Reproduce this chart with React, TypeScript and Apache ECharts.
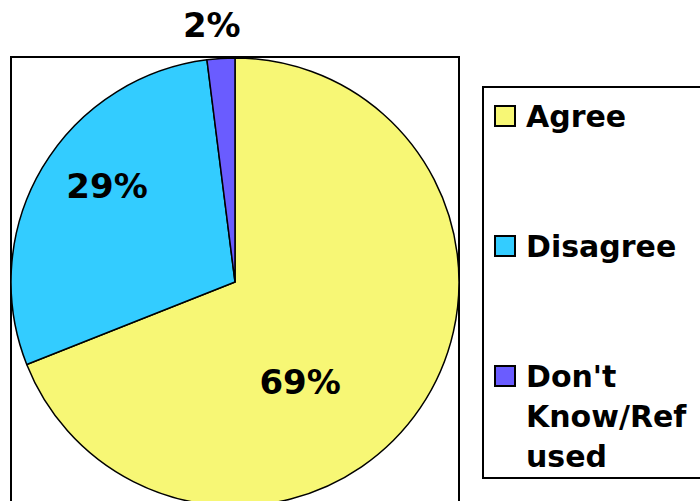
import React, { useEffect, useRef } from "react";
import * as echarts from "echarts";

const categories = ["Agree", "Disagree", "Don't Know/Refused"];
const legendLabels = ["Agree", "Disagree", "Don't\nKnow/Ref\nused"];
const values = [69, 29, 2];
const colors = ["#F7F775", "#33CCFF", "#6A5CFF"];
// label shifts relative to the library's inside position (Excel-style label placement)
const labelShift = [
  { dx: -30, dy: 35 },
  { dx: -29, dy: -37 },
  { dx: -16, dy: -142 },
];

const FONT = "DejaVu Sans";

export default function App() {
  const ref = useRef<HTMLDivElement>(null);
  useEffect(() => {
    if (!ref.current) return;
    const chart = echarts.init(ref.current, undefined, { renderer: "svg" });
    const legendGraphics: any[] = [];
    categories.forEach((c, i) => {
      const cy = 116 + i * 130;
      legendGraphics.push({
        type: "rect",
        shape: { x: 495, y: cy - 10, width: 20, height: 20 },
        style: { fill: colors[i], stroke: "#000", lineWidth: 2 },
      });
      legendGraphics.push({
        type: "text",
        x: 526,
        y: cy - 20,
        style: {
          text: legendLabels[i],
          fill: "#000",
          font: `bold 30px "${FONT}"`,
          fontFamily: FONT,
          fontWeight: "bold",
          fontSize: 30,
          lineHeight: 40,
          verticalAlign: "top",
          align: "left",
        },
      });
    });
    chart.setOption({
      animation: false,
      backgroundColor: "#fff",
      graphic: [
        {
          type: "rect",
          z: 0,
          shape: { x: 11, y: 57, width: 448, height: 480 },
          style: { fill: "none", stroke: "#000", lineWidth: 2 },
        },
        {
          type: "rect",
          z: 0,
          shape: { x: 483, y: 87, width: 260, height: 391 },
          style: { fill: "none", stroke: "#000", lineWidth: 2 },
        },
        ...legendGraphics,
      ],
      series: [
        {
          type: "pie",
          center: [235, 282],
          radius: 224,
          startAngle: 90,
          clockwise: true,
          data: categories.map((c, i) => ({
            name: c,
            value: values[i],
            itemStyle: { color: colors[i] },
          })),
          itemStyle: { borderColor: "#000", borderWidth: 1.5 },
          label: {
            show: true,
            position: "inside",
            formatter: "{c}%",
            color: "#000",
            fontFamily: FONT,
            fontWeight: "bold",
            fontSize: 34,
          },
          labelLine: { show: false },
          labelLayout: (p: any) => labelShift[p.dataIndex],
          emphasis: { disabled: true },
        },
      ],
    });
    return () => chart.dispose();
  }, []);
  return (
    <div
      ref={ref}
      style={{ position: "fixed", left: 0, top: 0, width: 700, height: 501 }}
    />
  );
}
